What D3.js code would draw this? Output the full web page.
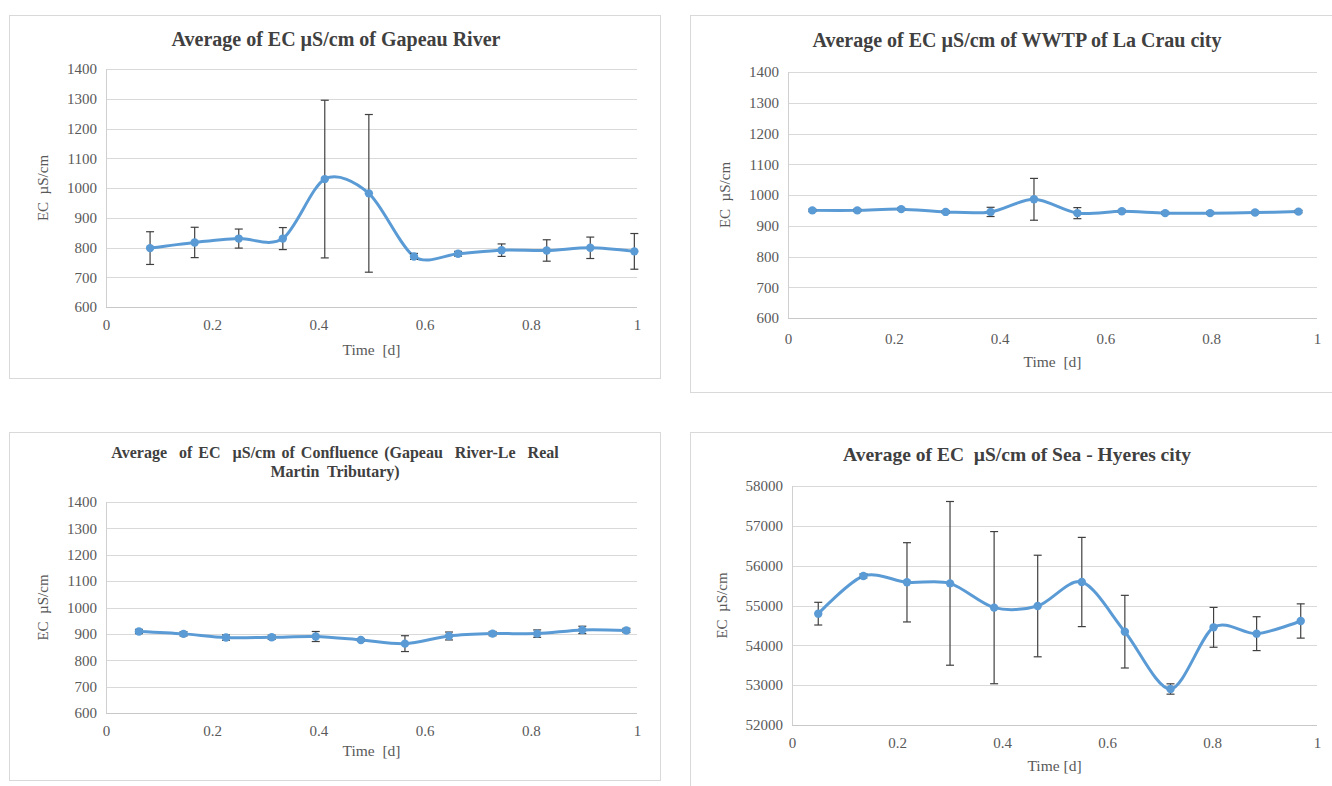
<!DOCTYPE html>
<html><head><meta charset="utf-8">
<script src="https://cdn.jsdelivr.net/npm/d3@7"></script>
<style>
body{margin:0;background:#fff;}
svg{display:block;}
text{font-family:"Liberation Serif","Times New Roman",serif;white-space:pre;}
</style></head>
<body>
<svg id="chart" width="1332" height="786"></svg>
<script>
// ---- data ----
const xTicks = [0, 0.2, 0.4, 0.6, 0.8, 1];
const ecTicks = [600, 700, 800, 900, 1000, 1100, 1200, 1300, 1400];
const seaTicks = [52000, 53000, 54000, 55000, 56000, 57000, 58000];

const gapeauTime = [0.083, 0.167, 0.25, 0.333, 0.412, 0.495, 0.58, 0.663, 0.745, 0.83, 0.912, 0.995];
const gapeauMean = [798, 817, 830, 830, 1030, 982, 770, 779, 791, 790, 799, 787];
const gapeauErr  = [55, 51, 32, 37, 265, 265, 10, 8, 21, 36, 36, 60];

const wwtpTime = [0.046, 0.131, 0.214, 0.298, 0.383, 0.465, 0.547, 0.631, 0.713, 0.798, 0.883, 0.965];
const wwtpMean = [950, 950, 954, 945, 945, 986, 941, 947, 941, 941, 943, 946];
const wwtpErr  = [4, 4, 4, 4, 15, 68, 18, 4, 4, 4, 4, 4];

const confTime = [0.062, 0.146, 0.226, 0.312, 0.395, 0.480, 0.563, 0.646, 0.728, 0.812, 0.897, 0.980];
const confMean = [909, 900, 886, 887, 890, 877, 863, 892, 901, 901, 915, 913];
const confErr  = [8, 8, 10, 8, 19, 5, 30, 15, 8, 14, 14, 8];

const seaTime = [0.050, 0.136, 0.219, 0.301, 0.385, 0.468, 0.552, 0.634, 0.721, 0.803, 0.885, 0.969];
const seaMean = [54795, 55741, 55582, 55556, 54946, 54987, 55590, 54343, 52904, 54452, 54293, 54611];
const seaErr  = [285, 50, 995, 2055, 1910, 1275, 1120, 912, 130, 500, 425, 430];

const titles = [
  ["Average of EC µS/cm of Gapeau River"],
  ["Average of EC µS/cm of WWTP of La Crau city"],
  ["Average  of EC  µS/cm of Confluence (Gapeau  River-Le  Real", "Martin  Tributary)"],
  ["Average of EC  µS/cm of Sea - Hyeres city"]
];
const yTitle = "EC  µS/cm";
const xTitles = ["Time  [d]", "Time  [d]", "Time  [d]", "Time [d]"];

// ---- layout ----
const svg = d3.select("#chart");
const panels = [
  {box:[9.5,15.5,651,363], plot:[106,69,637,307], time:gapeauTime, mean:gapeauMean, err:gapeauErr, ticks:ecTicks, dom:[600,1400],
   title:titles[0], titleY:[46], titleX:336, titleSize:20, wordSp:[0], yTitleX:48, xTitleY:355, xTickY:329},
  {box:[690.5,15.5,660,377], plot:[788,72,1317,318], time:wwtpTime, mean:wwtpMean, err:wwtpErr, ticks:ecTicks, dom:[600,1400],
   title:titles[1], titleY:[47], titleX:1017, titleSize:20, wordSp:[0], yTitleX:730, xTitleY:367, xTickY:343},
  {box:[9.5,432.5,651,348], plot:[106,502,637,713], time:confTime, mean:confMean, err:confErr, ticks:ecTicks, dom:[600,1400],
   title:titles[2], titleY:[458,477], titleX:335, titleSize:16, wordSp:[2,0], yTitleX:48, xTitleY:756, xTickY:735},
  {box:[690.5,432.5,660,360], plot:[792,486,1317,725], time:seaTime, mean:seaMean, err:seaErr, ticks:seaTicks, dom:[52000,58000],
   title:titles[3], titleY:[461], titleX:1017, titleSize:19.5, wordSp:[0], yTitleX:727, xTitleY:771, xTickY:747}
];

const serif = '"Liberation Serif","Times New Roman",serif';

panels.forEach((p, pi) => {
  const g = svg.append("g");
  g.append("rect").attr("x",p.box[0]).attr("y",p.box[1]).attr("width",p.box[2]).attr("height",p.box[3])
    .attr("fill","#fff").attr("stroke","#d9d9d9").attr("stroke-width",1);
  const [x0,y0,x1,y1] = p.plot;
  const x = d3.scaleLinear().domain([0,1]).range([x0,x1]);
  const y = d3.scaleLinear().domain(p.dom).range([y1,y0]);

  // gridlines
  g.append("g").selectAll("line").data(p.ticks).join("line")
    .attr("x1",x0).attr("x2",x1).attr("y1",d=>Math.round(y(d))+0.5).attr("y2",d=>Math.round(y(d))+0.5)
    .attr("stroke","#d9d9d9").attr("stroke-width",1);
  // axis lines
  g.append("line").attr("x1",x0+0.5).attr("x2",x0+0.5).attr("y1",y0).attr("y2",y1+0.5)
    .attr("stroke","#d0d0d0").attr("stroke-width",1);
  g.append("line").attr("x1",x0).attr("x2",x1).attr("y1",Math.round(y1)+0.5).attr("y2",Math.round(y1)+0.5)
    .attr("stroke","#c8c8c8").attr("stroke-width",1);

  // y tick labels
  const yAxis = d3.axisLeft(y).tickValues(p.ticks).tickSize(0).tickPadding(9).tickFormat(d3.format("d"));
  const ya = g.append("g").attr("transform",`translate(${x0},0)`).call(yAxis);
  ya.select(".domain").remove();
  ya.attr("font-family",null);
  ya.selectAll("text").style("font-family",serif).attr("font-size",15).attr("fill","#595959");
  // x tick labels
  const xAxis = d3.axisBottom(x).tickValues(xTicks).tickSize(0).tickPadding(0).tickFormat(d3.format("~g"));
  const xa = g.append("g").attr("transform",`translate(0,${p.xTickY-10})`).call(xAxis);
  xa.select(".domain").remove();
  xa.attr("font-family",null);
  xa.selectAll("text").style("font-family",serif).attr("font-size",15).attr("fill","#595959").attr("dy","0.71em");

  // titles
  p.title.forEach((t,i) => {
    g.append("text").attr("x",p.titleX).attr("y",p.titleY[i])
      .attr("text-anchor","middle").attr("font-weight","bold").attr("font-size",p.titleSize)
      .attr("word-spacing",p.wordSp[i]).attr("fill","#404040").text(t);
  });
  // axis titles
  g.append("text").attr("transform",`translate(${p.yTitleX},${(y0+y1)/2}) rotate(-90)`).attr("text-anchor","middle")
    .attr("font-size",15).attr("fill","#595959").text(yTitle);
  g.append("text").attr("x",(x0+x1)/2).attr("y",p.xTitleY).attr("text-anchor","middle")
    .attr("font-size",15.5).attr("fill","#595959").text(xTitles[pi]);

  const data = p.time.map((t,i)=>({t, m:p.mean[i], e:p.err[i]}));
  // line
  const line = d3.line().x(d=>x(d.t)).y(d=>y(d.m)).curve(d3.curveCardinal.tension(0.1));
  g.append("path").datum(data).attr("d",line).attr("fill","none").attr("stroke","#5b9bd5").attr("stroke-width",3);
  // error bars
  const eb = g.append("g").attr("stroke","#404040").attr("stroke-width",1.2);
  eb.selectAll(".v").data(data).join("line").attr("x1",d=>x(d.t)).attr("x2",d=>x(d.t))
    .attr("y1",d=>y(d.m+d.e)).attr("y2",d=>y(d.m-d.e));
  eb.selectAll(".t").data(data).join("line").attr("x1",d=>x(d.t)-4).attr("x2",d=>x(d.t)+4)
    .attr("y1",d=>y(d.m+d.e)).attr("y2",d=>y(d.m+d.e));
  eb.selectAll(".b").data(data).join("line").attr("x1",d=>x(d.t)-4).attr("x2",d=>x(d.t)+4)
    .attr("y1",d=>y(d.m-d.e)).attr("y2",d=>y(d.m-d.e));
  // markers
  g.append("g").selectAll("circle").data(data).join("circle").attr("cx",d=>x(d.t)).attr("cy",d=>y(d.m)).attr("r",4.2)
    .attr("fill","#5b9bd5");
});
</script>
</body></html>
